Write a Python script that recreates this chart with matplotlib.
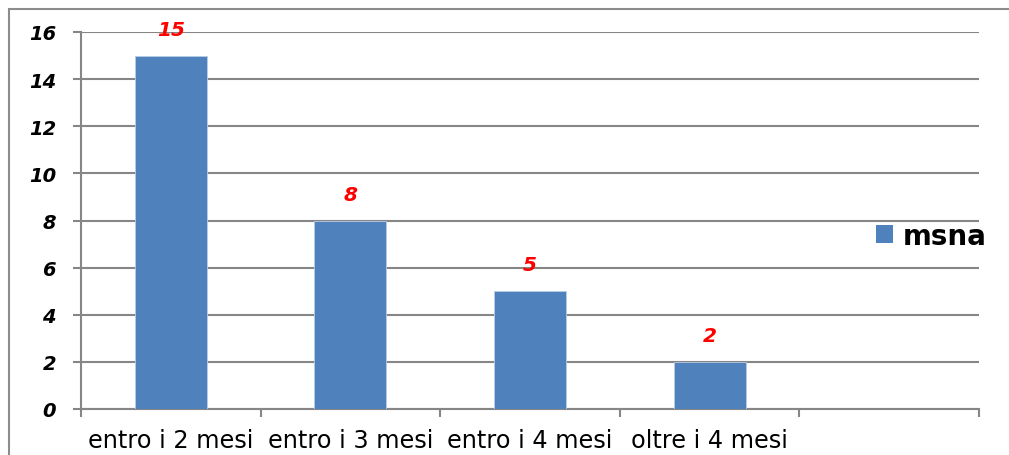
import matplotlib
matplotlib.use('Agg')
import matplotlib.pyplot as plt
from matplotlib.patches import Patch, Rectangle

categories = ['entro i 2 mesi', 'entro i 3 mesi', 'entro i 4 mesi', 'oltre i 4 mesi', '']
values = [15, 8, 5, 2]
series_name = 'msna'
yticks = [0, 2, 4, 6, 8, 10, 12, 14, 16]

bar_color = '#4F81BD'
grid_color = '#868686'

fig = plt.figure(figsize=(10.09, 4.56), dpi=100)
ax = fig.add_axes([81 / 1009, 1 - 410 / 456, 898 / 1009, 377 / 456])

# outer frame of the chart area (left and top edges visible)
fig.patches.append(Rectangle((9 / 1009, -0.1), 1.2, 1 - 10 / 456 + 0.1,
                             transform=fig.transFigure, fill=False,
                             edgecolor='#8c8c8c', linewidth=1.5))

n = len(categories)
centers = [i + 0.5 for i in range(len(values))]
bars = ax.bar(centers, values, width=0.4, color=bar_color,
              edgecolor='#b9cde5', linewidth=0.6, zorder=3)

for x, v in zip(centers, values):
    ax.annotate(str(v), (x, v), xytext=(0, 19), textcoords='offset points',
                ha='center', va='center', color='#ff0000',
                fontsize=14.5, fontweight='bold', fontstyle='italic')

ax.set_xlim(0, n)
ax.set_ylim(0, 16)

ax.set_xticks(range(n + 1))
ax.set_xticklabels([])
ax.set_xticks([i + 0.5 for i in range(n)], minor=True)
ax.set_xticklabels(categories, minor=True, fontsize=17.3)
ax.tick_params(axis='x', which='major', length=6, width=1.5, color=grid_color)
ax.tick_params(axis='x', which='minor', length=0, pad=13.5)

ax.set_yticks(yticks)
ax.set_yticklabels([str(t) for t in yticks], fontsize=14,
                   fontweight='bold', fontstyle='italic')
ax.tick_params(axis='y', length=6, width=1.5, color=grid_color, pad=12)

ax.grid(axis='y', color=grid_color, linewidth=1.5, zorder=0)
ax.set_axisbelow(True)

for side in ['top', 'right']:
    ax.spines[side].set_visible(False)
for side in ['left', 'bottom']:
    ax.spines[side].set_color(grid_color)
    ax.spines[side].set_linewidth(1.5)

fig.legend(handles=[Patch(facecolor=bar_color, label=series_name)],
           loc='center left', bbox_to_anchor=(876 / 1009, 1 - 237 / 456),
           frameon=False, borderpad=0, borderaxespad=0,
           handlelength=0.6, handleheight=0.6, handletextpad=0.35,
           prop={'size': 20, 'weight': 'bold'})

fig.savefig('out.png', dpi=100)
